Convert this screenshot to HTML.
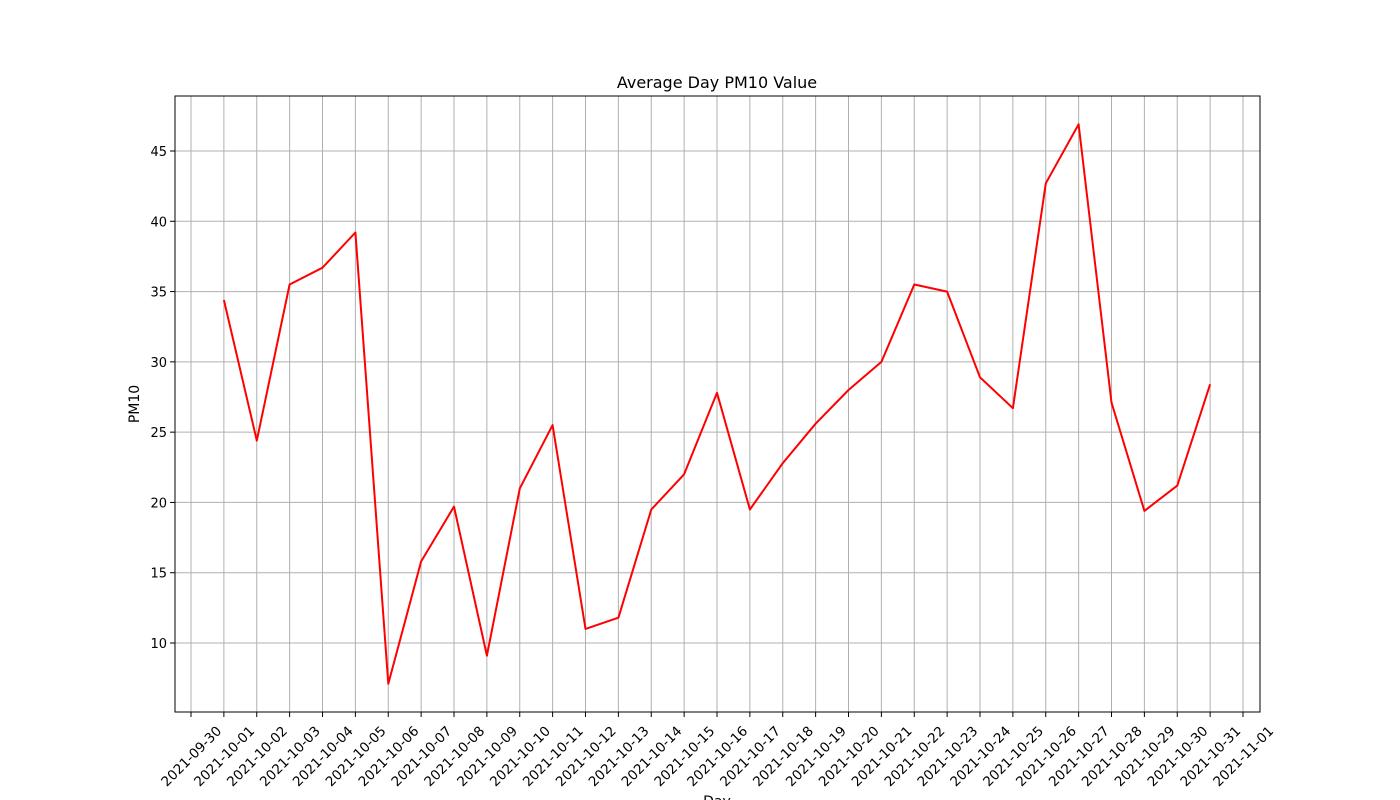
<!DOCTYPE html>
<html><head><meta charset="utf-8"><style>
html,body{margin:0;padding:0;background:#fff;}
svg{display:block;font-family:"DejaVu Sans","Liberation Sans",sans-serif;}
</style></head><body>
<svg id="chart" width="1400" height="800" viewBox="0 0 1400 800">
<rect x="0" y="0" width="1400" height="800" fill="#fff"/>
<g id="grid"></g>
<g id="marks"></g>
<rect x="175" y="96" width="1085" height="616" fill="none" stroke="#000" stroke-width="1"/>
<g id="xaxis"></g>
<g id="yaxis"></g>
<text x="717" y="88" text-anchor="middle" font-size="16">Average Day PM10 Value</text>
<text x="717" y="806" text-anchor="middle" font-size="14">Day</text>
<text transform="translate(139,404) rotate(-90)" text-anchor="middle" font-size="14">PM10</text>
</svg>
<script>
const days = ["2021-10-01","2021-10-02","2021-10-03","2021-10-04","2021-10-05","2021-10-06","2021-10-07","2021-10-08","2021-10-09","2021-10-10","2021-10-11","2021-10-12","2021-10-13","2021-10-14","2021-10-15","2021-10-16","2021-10-17","2021-10-18","2021-10-19","2021-10-20","2021-10-21","2021-10-22","2021-10-23","2021-10-24","2021-10-25","2021-10-26","2021-10-27","2021-10-28","2021-10-29","2021-10-30","2021-10-31"];
const pm10 = [34.4,24.4,35.5,36.7,39.2,7.1,15.8,19.7,9.1,21.0,25.5,11.0,11.8,19.5,22.0,27.8,19.5,22.8,25.6,28.0,30.0,35.5,35.0,28.9,26.7,42.7,46.9,27.1,19.4,21.2,28.4];
const xTickLabels = ["2021-09-30","2021-10-01","2021-10-02","2021-10-03","2021-10-04","2021-10-05","2021-10-06","2021-10-07","2021-10-08","2021-10-09","2021-10-10","2021-10-11","2021-10-12","2021-10-13","2021-10-14","2021-10-15","2021-10-16","2021-10-17","2021-10-18","2021-10-19","2021-10-20","2021-10-21","2021-10-22","2021-10-23","2021-10-24","2021-10-25","2021-10-26","2021-10-27","2021-10-28","2021-10-29","2021-10-30","2021-10-31","2021-11-01"];
const yTicks = [10,15,20,25,30,35,40,45];

const NS="http://www.w3.org/2000/svg";
const L=175,R=1260,T=96,B=712;
const x0=191, dx=(1243-191)/32;
function xIdx(i){return x0+i*dx;}
function xScale(label){return xIdx(xTickLabels.indexOf(label));}
function yScale(v){return 643-(v-10)*(492/35);}
function mk(tag,attrs,parent){const e=document.createElementNS(NS,tag);for(const k in attrs)e.setAttribute(k,attrs[k]);parent.appendChild(e);return e;}
const grid=document.getElementById('grid'),xa=document.getElementById('xaxis'),ya=document.getElementById('yaxis'),marks=document.getElementById('marks');
xTickLabels.forEach((lab,i)=>{
  const x=xIdx(i);
  const g=mk('line',{x1:x,x2:x,y1:T,y2:B,stroke:'#b0b0b0','stroke-width':1},grid);
  
  
  const t=mk('line',{x1:x,x2:x,y1:B,y2:B+5,stroke:'#000'},xa);
  
  
  const tx=mk('text',{transform:`translate(${x},756) rotate(-45)`,y:5,'text-anchor':'middle','font-size':13.5},xa);
  tx.textContent=lab;
  
  
});
yTicks.forEach(v=>{
  const y=yScale(v);
  const g=mk('line',{x1:L,x2:R,y1:y,y2:y,stroke:'#b0b0b0','stroke-width':1},grid);
  
  
  const t=mk('line',{x1:L-5,x2:L,y1:y,y2:y,stroke:'#000'},ya);
  
  
  const tx=mk('text',{x:L-8,y:y+5,'text-anchor':'end','font-size':13},ya);
  tx.textContent=v;
  
  
});
const pts=days.map((d,i)=>xScale(d).toFixed(1)+','+yScale(pm10[i]).toFixed(1)).join(' ');
const line=mk('polyline',{points:pts,fill:'none',stroke:'#ff0000','stroke-width':2,'stroke-linejoin':'round'},marks);


</script>
</body></html>
